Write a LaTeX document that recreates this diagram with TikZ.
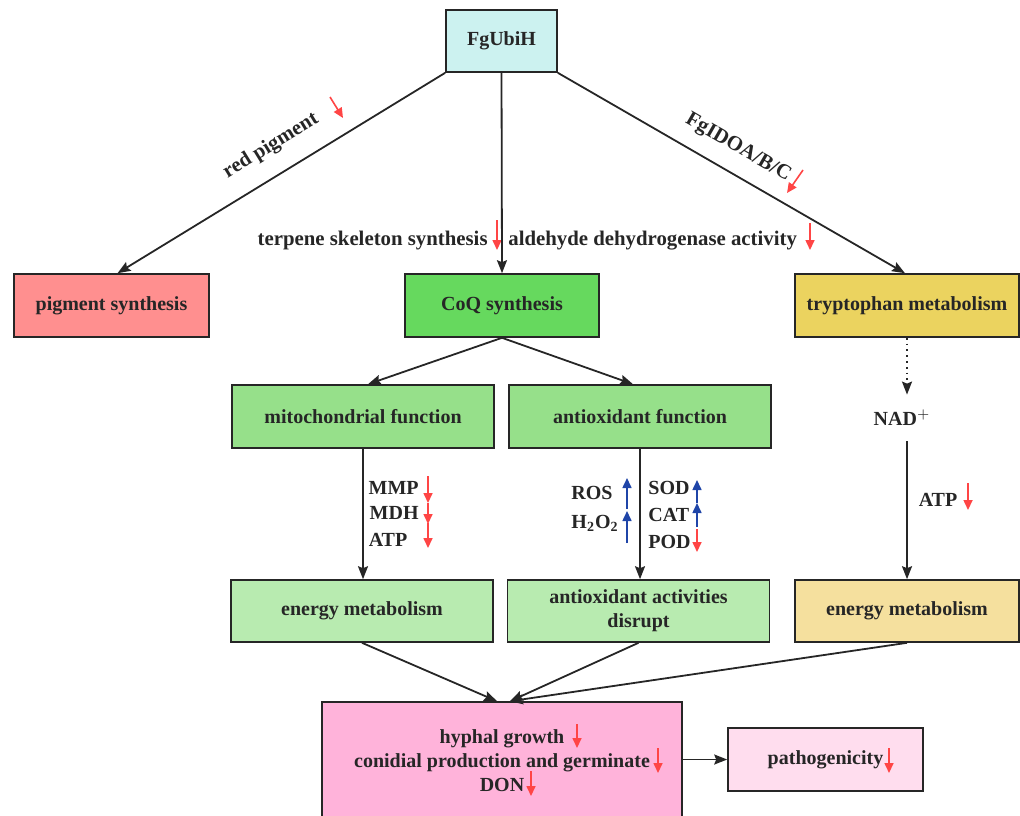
\documentclass[tikz,border=0pt]{standalone}
\usepackage{fontspec}
\setmainfont{Liberation Serif}
\usetikzlibrary{arrows.meta}

\definecolor{ubicyan}{HTML}{CCF2F0}
\definecolor{pigred}{HTML}{FF8F8F}
\definecolor{coqgreen}{HTML}{66D95E}
\definecolor{trypyellow}{HTML}{EBD35F}
\definecolor{funcgreen}{HTML}{96E08A}
\definecolor{actgreen}{HTML}{B8EBB0}
\definecolor{energyyellow}{HTML}{F5E09E}
\definecolor{growthpink}{HTML}{FFB3DA}
\definecolor{pathpink}{HTML}{FFDDEE}
\definecolor{downred}{HTML}{FF4545}
\definecolor{upblue}{HTML}{1F45A8}

\begin{document}
\begin{tikzpicture}[
    x=0.5pt, y=-0.5pt,
    every node/.style={font=\bfseries\fontsize{10}{12}\selectfont, text=black!85},
    box/.style={rectangle, draw=black!85, line width=0.8pt, align=center, inner sep=0pt, minimum height=31.5pt},
    arrow/.style={-{Stealth[length=6.5pt, width=5pt, inset=1pt]}, line width=0.9pt, draw=black!85},
    dotarrow/.style={arrow, dotted},
    down/.style={-{Triangle[length=5pt, width=4.5pt]}, line width=0.8pt, draw=downred, fill=downred},
    up/.style={-{Triangle[length=5pt, width=4.5pt]}, line width=0.8pt, draw=upblue, fill=upblue},
    note/.style={inner sep=0pt},
    edgenote/.style={note, font=\bfseries\fontsize{10.4}{12}\selectfont}
]
\useasboundingbox (0,0) rectangle (1020,815);

% -------------------------
% Top row
% -------------------------
    \node[box, fill=ubicyan, minimum width=55.5pt, minimum height=31pt] (ubi) at (501.5,41) {FgUbiH};

    \node[box, fill=pigred, minimum width=97.5pt] (pig) at (111.5,305.5) {pigment synthesis};
    \node[box, fill=coqgreen, minimum width=97pt] (coq) at (502,305.5) {CoQ synthesis};
    \node[box, fill=trypyellow, minimum width=112pt] (tryp) at (907,305.5) {tryptophan metabolism};

% -------------------------
% Middle rows
% -------------------------
    \node[box, fill=funcgreen, minimum width=131pt] (mito) at (363,416.5) {mitochondrial function};
    \node[box, fill=funcgreen, minimum width=131pt] (antiox) at (640,416.5) {antioxidant function};
    \node[note, minimum height=23pt] (nad) at (902,418) {NAD$^{+}$};

    \node[box, fill=actgreen, minimum width=131pt, minimum height=31pt] (energy1) at (362,611) {energy metabolism};
    \node[box, fill=actgreen, minimum width=131pt, minimum height=31pt] (disrupt) at (638.5,611) {antioxidant activities\\disrupt};
    \node[box, fill=energyyellow, minimum width=112pt, minimum height=31pt] (energy2) at (907,611) {energy metabolism};

% -------------------------
% Bottom row
% -------------------------
    \node[box, fill=growthpink, minimum width=180pt, minimum height=59pt] (growth) at (502,761) {hyphal growth\\conidial production and germinate\\DON};
    \node[box, fill=pathpink, minimum width=97.5pt] (path) at (825.5,759.5) {pathogenicity};

% -------------------------
% Edge labels
% -------------------------
    \node[edgenote, rotate=31.6] (redpig) at (271,146) {red pigment};
    \node[edgenote, anchor=base east] (terpene) at (488,245) {terpene skeleton synthesis};
    \node[edgenote, anchor=base west] (aldehyde) at (508,245) {aldehyde dehydrogenase activity};
    \node[edgenote, rotate=-30] (fgidoa) at (738,148) {FgIDOA/B/C};

    \node[note, anchor=east] (mmp) at (419,488) {MMP};
    \node[note, anchor=east] (mdh) at (419,513) {MDH};
    \node[note] (atp1) at (388,540) {ATP};

    \node[note, anchor=east] (ros) at (613,493) {ROS};
    \node[note, anchor=east] (hoo) at (619,523) {H\textsubscript{2}O\textsubscript{2}};
    \node[note, anchor=west] (sod) at (648,488) {SOD};
    \node[note, anchor=west] (cat) at (648,515) {CAT};
    \node[note, anchor=west] (pod) at (648,542) {POD};

    \node[note] (atp2) at (938,500) {ATP};

% -------------------------
% Up / down marks
% -------------------------
    \draw[down] (330,97) -- (343,118);
    \draw[down] (497,220) -- (497,250);
    \draw[down] (810,223) -- (810,250);
    \draw[down] (803,170) -- (787,193);

    \draw[down] (428,476) -- (428,503);
    \draw[down] (428,503) -- (428,524);
    \draw[down] (428,523) -- (428,548);

    \draw[up] (627,509) -- (627,478);
    \draw[up] (627,543) -- (627,511);
    \draw[up] (697,503) -- (697,480);
    \draw[up] (697,527) -- (697,503);
    \draw[down] (697,529) -- (697,552);

    \draw[down] (968,483) -- (968,510);

    \draw[down] (577,724) -- (577,748);
    \draw[down] (658,748) -- (658,773);
    \draw[down] (531,771) -- (531,796);
    \draw[down] (889,748) -- (889,773);

% -------------------------
% Connectors
% -------------------------
    \draw[arrow] (ubi.south west) -- ([xshift=3pt]pig.north);
    \draw[arrow] (ubi.south) -- (coq.north);
    \draw[arrow] (ubi.south east) -- ([xshift=-1pt]tryp.north);

    \draw[arrow] (coq.south) -- ([xshift=2.5pt]mito.north);
    \draw[arrow] (coq.south) -- ([xshift=-3.5pt]antiox.north);
    \draw[dotarrow] (tryp.south) -- (tryp.south |- nad.north);

    \draw[arrow] (mito.south) -- (mito.south |- energy1.north);
    \draw[arrow] (antiox.south) -- (antiox.south |- disrupt.north);
    \draw[arrow] (tryp.south |- nad.south) -- (energy2.north);

    \draw[arrow] (energy1.south) -- ([xshift=-2.5pt]growth.north);
    \draw[arrow] (disrupt.south) -- ([xshift=4pt]growth.north);
    \draw[arrow] (energy2.south) -- ([xshift=4pt]growth.north);
    \draw[arrow] (growth.east |- path.west) -- (path.west);
\end{tikzpicture}
\end{document}
